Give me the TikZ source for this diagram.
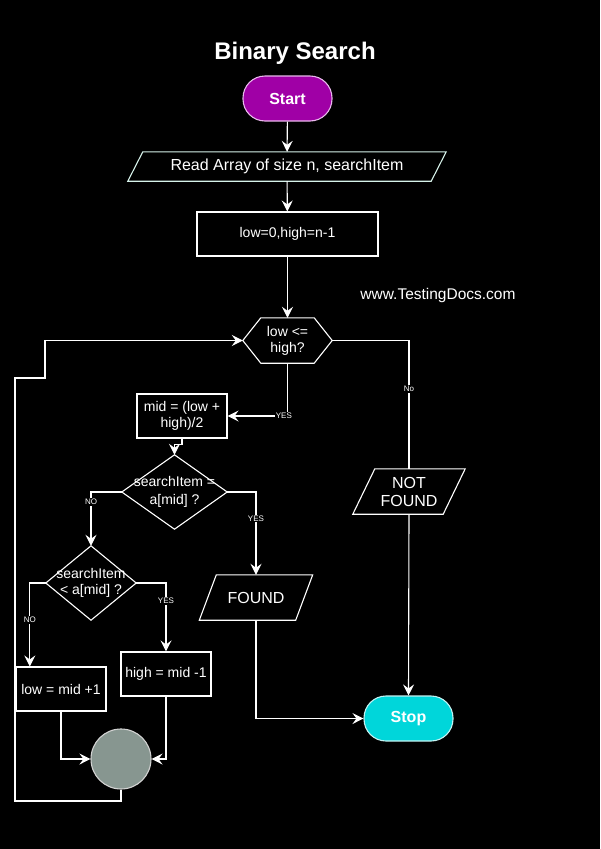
\documentclass[tikz,border=0pt]{standalone}
\usepackage{fontspec}
\setmainfont{Liberation Sans}
\usetikzlibrary{calc}
\usetikzlibrary{arrows.meta}

\definecolor{startfill}{HTML}{A000A6}
\definecolor{startline}{HTML}{E9B8EC}
\definecolor{stopfill}{HTML}{00D6DA}
\definecolor{stopline}{HTML}{C4F2F2}
\definecolor{joinfill}{HTML}{879690}
\definecolor{joinline}{HTML}{D2D2D2}
\definecolor{readline}{HTML}{D6F2EA}

\tikzset{
  every node/.style={text=white, inner sep=0pt, align=center},
  line/.style={white, line width=1.1pt},
  arr/.style={line, -{Stealth[length=11pt, width=11pt, inset=4pt]}},
  box/.style={draw=white, line width=1.1pt, minimum height=44},
  term/.style={rounded corners=22, line width=1.1pt, minimum width=89, minimum height=45,
    font=\bfseries\fontsize{16}{18}\selectfont},
  txt/.style={font=\fontsize{14}{16}\selectfont},
  lbl/.style={fill=black, inner sep=1pt, font=\fontsize{8}{9}\selectfont},
}

% parallelogram round a node: name, half slant, colour
\newcommand{\slantbox}[3]{%
  \draw[line, draw=#3] ($(#1.south west)+(-#2,0)$) -- ($(#1.north west)+(#2,0)$)
    -- ($(#1.north east)+(#2,0)$) -- ($(#1.south east)+(-#2,0)$) -- cycle;}

\begin{document}
\begin{tikzpicture}[x=1pt, y=-1pt]

\fill[black] (0,0) rectangle (600,849);

% nodes
\node[font=\bfseries\fontsize{24}{28}\selectfont] (title) at (295,53) {Binary Search};
\node[term, fill=startfill, draw=startline] (start) at (287.5,98.5) {Start};
\node[minimum width=303, minimum height=29, font=\fontsize{16}{18}\selectfont] (read) at (287,166.5)
  {Read Array of size n, searchItem};
\node[box, txt, minimum width=181] (init) at (287.5,234) {low=0,high=n-1};
\node[font=\fontsize{15.5}{18}\selectfont] (site) at (438,295) {www.TestingDocs.com};
\node[txt, minimum width=89, minimum height=45] (test) at (287.5,340.5) {low <=\\high?};
\node[box, txt, minimum width=90] (mid) at (182,416) {mid = (low +\\high)/2};
\node[minimum width=105, minimum height=74, font=\fontsize{14}{18}\selectfont] (eq) at (174.5,492)
  {searchItem =\\a[mid] ?};
\node[txt, minimum width=90, minimum height=74] (lt) at (91,583) {searchItem\\< a[mid] ?};
\node[minimum width=96, minimum height=45, font=\fontsize{16}{18}\selectfont] (found) at (256,597.5) {FOUND};
\node[minimum width=90, minimum height=45, font=\fontsize{16}{18}\selectfont] (notfound) at (409,491.5)
  {NOT\\FOUND};
\node[box, txt, minimum width=90] (low) at (61,689) {low = mid +1};
\node[box, txt, minimum width=90] (high) at (166,674) {high = mid -1};
\node[circle, fill=joinfill, draw=joinline, line width=1.1pt, minimum size=60] (join) at (121,759) {};
\node[term, fill=stopfill, draw=stopline] (stop) at (408.5,718.5) {Stop};

% outlines
\slantbox{read}{7.5}{readline}
\slantbox{found}{8.5}{white}
\slantbox{notfound}{11}{white}
\draw[line] (test.west) -- ($(test.north west)+(18,0)$) -- ($(test.north east)+(-18,0)$)
  -- (test.east) -- ($(test.south east)+(-18,0)$) -- ($(test.south west)+(18,0)$) -- cycle;
\draw[line] (eq.west) -- (eq.north) -- (eq.east) -- (eq.south) -- cycle;
\draw[line] (lt.west) -- (lt.north) -- (lt.east) -- (lt.south) -- cycle;

\coordinate (back1) at (15,801);
\coordinate (back2) at (45,378);

% connectors
\draw[arr] (start) -- (read);
\draw[arr] (read) -- (init);
\draw[arr] (init) -- (test);
\draw[arr] (test.south) |- node[lbl, pos=0.53] {YES} (mid.east);
\draw[arr] (mid.south) -- ++(0,6) -| (eq.north);
\draw[arr] (eq.west) -| node[lbl, pos=0.59] {NO} (lt.north);
\draw[arr] (eq.east) -| node[lbl, pos=0.66] {YES} (found.north);
\draw[arr] (lt.west) -- ++(-16,0) coordinate (noturn) -- node[lbl, pos=0.44] {NO} (noturn |- low.north);
\draw[arr] (lt.east) -| node[lbl, pos=0.63] {YES} (high.north);
\draw[arr] (low.south) |- (join.west);
\draw[arr] (high.south) |- (join.east);
\draw[arr] (join.south) |- (back1) |- (back2) |- (test.west);
\draw[line] (test.east) -| node[lbl, pos=0.69] {No} (notfound.north);
\draw[arr] (notfound.south) -- (stop.north);
\draw[arr] (found.south) |- (stop.west);

\end{tikzpicture}
\end{document}
